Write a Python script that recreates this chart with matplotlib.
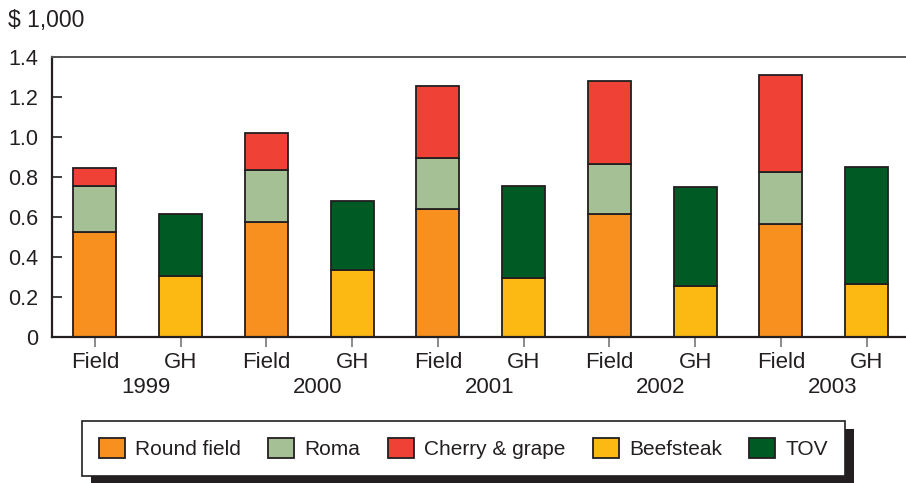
import numpy as np
import matplotlib.pyplot as plt
from matplotlib.patches import Rectangle
from matplotlib.transforms import blended_transform_factory

plt.rcParams['font.family'] = ['Liberation Sans', 'DejaVu Sans']

years = ['1999', '2000', '2001', '2002', '2003']
# field tomatoes, $1,000
round_field = [0.523, 0.574, 0.641, 0.616, 0.563]
roma = [0.230, 0.259, 0.253, 0.250, 0.263]
cherry = [0.092, 0.187, 0.361, 0.414, 0.484]
# greenhouse tomatoes
beefsteak = [0.305, 0.335, 0.292, 0.254, 0.264]
tov = [0.311, 0.346, 0.464, 0.495, 0.584]

c_round = '#F7901E'
c_roma = '#A5C095'
c_cherry = '#EF4136'
c_beef = '#FDB913'
c_tov = '#005A24'
edge = '#231F20'

fig = plt.figure(figsize=(9.06, 4.83), dpi=100)
ax = fig.add_axes([52/906, 1-336.7/483, 1-52/906, (336.7-57)/483])

n = len(years)
xf = np.arange(n) * 2
xg = xf + 1
w = 0.5
kw = dict(width=w, edgecolor=edge, linewidth=1.3)

b1 = ax.bar(xf, round_field, color=c_round, label='Round field', **kw)
b2 = ax.bar(xf, roma, bottom=round_field, color=c_roma, label='Roma', **kw)
bot = np.array(round_field) + np.array(roma)
b3 = ax.bar(xf, cherry, bottom=bot, color=c_cherry, label='Cherry & grape', **kw)
b4 = ax.bar(xg, beefsteak, color=c_beef, label='Beefsteak', **kw)
b5 = ax.bar(xg, tov, bottom=beefsteak, color=c_tov, label='TOV', **kw)

ax.set_xlim(-0.5, 9.46)
ax.set_ylim(0, 1.4)
ax.set_yticks([0, 0.2, 0.4, 0.6, 0.8, 1.0, 1.2, 1.4])
ax.set_yticklabels(['0', '0.2', '0.4', '0.6', '0.8', '1.0', '1.2', '1.4'])
ax.set_xticks(np.arange(2 * n))
ax.set_xticklabels(['Field', 'GH'] * n)
ax.tick_params(axis='y', direction='in', length=7, width=1.2, color=edge,
               labelsize=15.5, pad=10, labelcolor=edge)
ax.tick_params(axis='x', direction='out', length=7, width=1.2, color='#777777',
               labelsize=16, pad=4, labelcolor=edge)

for s in ['left', 'bottom']:
    ax.spines[s].set_linewidth(1.6)
    ax.spines[s].set_color(edge)
ax.spines['top'].set_linewidth(1.4)
ax.spines['top'].set_color('#555555')
ax.spines['right'].set_visible(False)

tr = blended_transform_factory(ax.transData, ax.transAxes)
for i, yr in enumerate(years):
    ax.text(xf[i] + 0.6, -0.18, yr, transform=tr, ha='center', va='center',
            fontsize=16, color=edge)

fig.text(8/906, 1-21/483, '$ 1,000', ha='left', va='center', fontsize=16.5, color=edge)

leg = fig.legend(handles=[b1, b2, b3, b4, b5], loc='center',
                 bbox_to_anchor=(463.4/906, 1-448.3/483), ncol=5, fontsize=15,
                 frameon=True, fancybox=False, edgecolor=edge, facecolor='white',
                 framealpha=1, handlelength=1.25, handleheight=1.15,
                 handletextpad=0.5, columnspacing=1.3, borderpad=0.8)
leg.get_frame().set_linewidth(1.2)
leg.set_zorder(5)
for t in leg.get_texts():
    t.set_color(edge)

fig.canvas.draw()
bb = leg.get_window_extent().transformed(fig.transFigure.inverted())
fig.patches.append(Rectangle((bb.x0 + 9/906, bb.y0 - 8/483), bb.width, bb.height,
                             transform=fig.transFigure, facecolor=edge,
                             edgecolor='none', zorder=1))

fig.savefig('out.png', dpi=100)
